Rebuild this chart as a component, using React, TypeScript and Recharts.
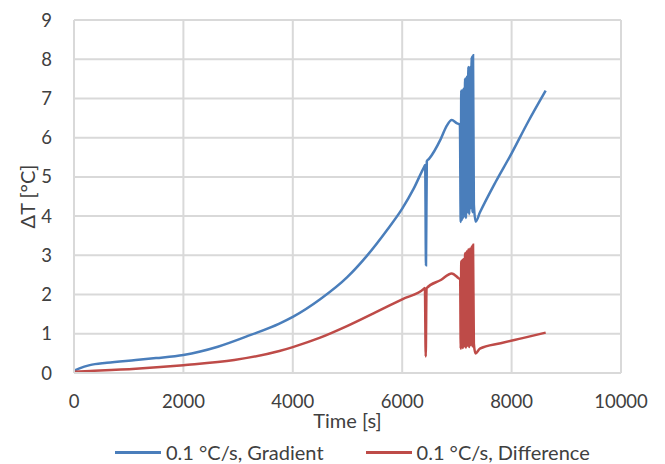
import { LineChart, Line, XAxis, YAxis, CartesianGrid, Legend, Label } from "recharts"

const FONT = "Lato, 'Open Sans', sans-serif"
const TEXT = "#404040"
const GRID = "#d9d9d9"

const blueLabel = "0.1 °C/s, Gradient"
const redLabel = "0.1 °C/s, Difference"

const xTicks = [0, 2000, 4000, 6000, 8000, 10000]
const yTicks = [0, 1, 2, 3, 4, 5, 6, 7, 8, 9]

const gradientTime = [
  0, 100, 288, 600, 1130, 1500, 2000, 2630, 3230, 3755, 4000, 4500, 5000, 5350, 5720, 6000, 6210, 6400, 6420,
  6435, 6450, 6490, 6706, 6813, 6905, 6996, 7055,
  7070, 7080, 7090, 7100, 7110, 7120, 7135, 7150, 7165, 7180, 7195, 7210, 7225, 7240, 7255, 7270, 7285, 7295, 7310,
  7343, 7420, 7700, 8000, 8300, 8623,
]
const gradientValue = [
  0.06, 0.12, 0.2, 0.26, 0.33, 0.38, 0.46, 0.67, 0.97, 1.26, 1.43, 1.88, 2.45, 2.98, 3.64, 4.19, 4.7, 5.25, 5.3,
  2.75, 5.4, 5.46, 5.97, 6.3, 6.45, 6.37, 6.33,
  3.85, 7.2, 3.9, 7.2, 3.95, 7.25, 4.0, 7.5, 3.95, 7.55, 4.1, 7.8, 4.05, 7.8, 4.2, 8.05, 4.1, 8.1, 4.3,
  3.86, 4.09, 4.85, 5.6, 6.4, 7.2,
]

const diffTime = [
  0, 300, 1130, 2000, 2930, 3755, 4000, 4500, 5000, 5520, 6000, 6400, 6415, 6430, 6445, 6706, 6905, 7027, 7060,
  7070, 7080, 7090, 7100, 7110, 7120, 7135, 7150, 7165, 7180, 7195, 7210, 7225, 7240, 7255, 7270, 7285, 7295, 7310,
  7340, 7420, 7800, 8200, 8623,
]
const diffValue = [
  0.03, 0.05, 0.11, 0.2, 0.33, 0.56, 0.66, 0.9, 1.2, 1.55, 1.88, 2.15, 2.17, 0.42, 2.16, 2.37, 2.54, 2.42, 2.38,
  0.62, 2.85, 0.66, 2.88, 0.64, 2.9, 0.68, 3.05, 0.65, 3.1, 0.7, 3.15, 0.66, 3.17, 0.72, 3.22, 0.68, 3.27, 0.75,
  0.5, 0.62, 0.76, 0.89, 1.03,
]

const gradientData = gradientTime.map((t, i) => ({ t, v: gradientValue[i] }))
const diffData = diffTime.map((t, i) => ({ t, v: diffValue[i] }))

const series = [
  { name: blueLabel, color: "#4a7ebb" },
  { name: redLabel, color: "#be4b48" },
]

function ChartLegend() {
  return (
    <div style={{ display: "flex", paddingLeft: 115, fontFamily: FONT, fontSize: 20, color: TEXT, height: 24, alignItems: "center", whiteSpace: "nowrap" }}>
      {series.map((s, i) => (
        <div key={s.name} style={{ display: "flex", alignItems: "center", marginRight: i === 0 ? 42 : 0 }}>
          <div style={{ width: 46, height: 3, background: s.color, marginRight: 5 }} />
          <span>{s.name}</span>
        </div>
      ))}
    </div>
  )
}

export default function App() {
  return (
    <div style={{ position: "absolute", left: 0, top: 0, background: "#fff" }}>
      <LineChart width={665} height={464} margin={{ top: 20, right: 44, bottom: 0, left: 0 }}>
        <CartesianGrid stroke={GRID} strokeWidth={2} horizontalValues={yTicks} verticalValues={xTicks} />
        <XAxis
          type="number"
          dataKey="t"
          domain={[0, 10000]}
          ticks={xTicks}
          tickLine={false}
          axisLine={{ stroke: GRID, strokeWidth: 2 }}
          tick={{ fill: TEXT, fontSize: 18.5, fontFamily: FONT }}
          tickMargin={16}
          height={67}
          allowDuplicatedCategory={false}
        >
          <Label value="Time [s]" position="insideBottom" offset={12} style={{ fill: TEXT, fontSize: 20, fontFamily: FONT }} />
        </XAxis>
        <YAxis
          type="number"
          domain={[0, 9]}
          ticks={yTicks}
          tickLine={false}
          axisLine={{ stroke: GRID, strokeWidth: 2 }}
          tick={{ fill: TEXT, fontSize: 18.5, fontFamily: FONT }}
          tickMargin={16}
          width={74}
        >
          <Label value="ΔT [°C]" angle={-90} position="insideLeft" offset={28} style={{ fill: TEXT, fontSize: 20, fontFamily: FONT, textAnchor: "middle" }} />
        </YAxis>
        <Legend verticalAlign="bottom" content={<ChartLegend />} />
        <Line data={gradientData} type="monotone" dataKey="v" name={blueLabel} stroke="#4a7ebb" strokeWidth={2.5} dot={false} isAnimationActive={false} />
        <Line data={diffData} type="monotone" dataKey="v" name={redLabel} stroke="#be4b48" strokeWidth={2.5} dot={false} isAnimationActive={false} />
      </LineChart>
    </div>
  )
}
